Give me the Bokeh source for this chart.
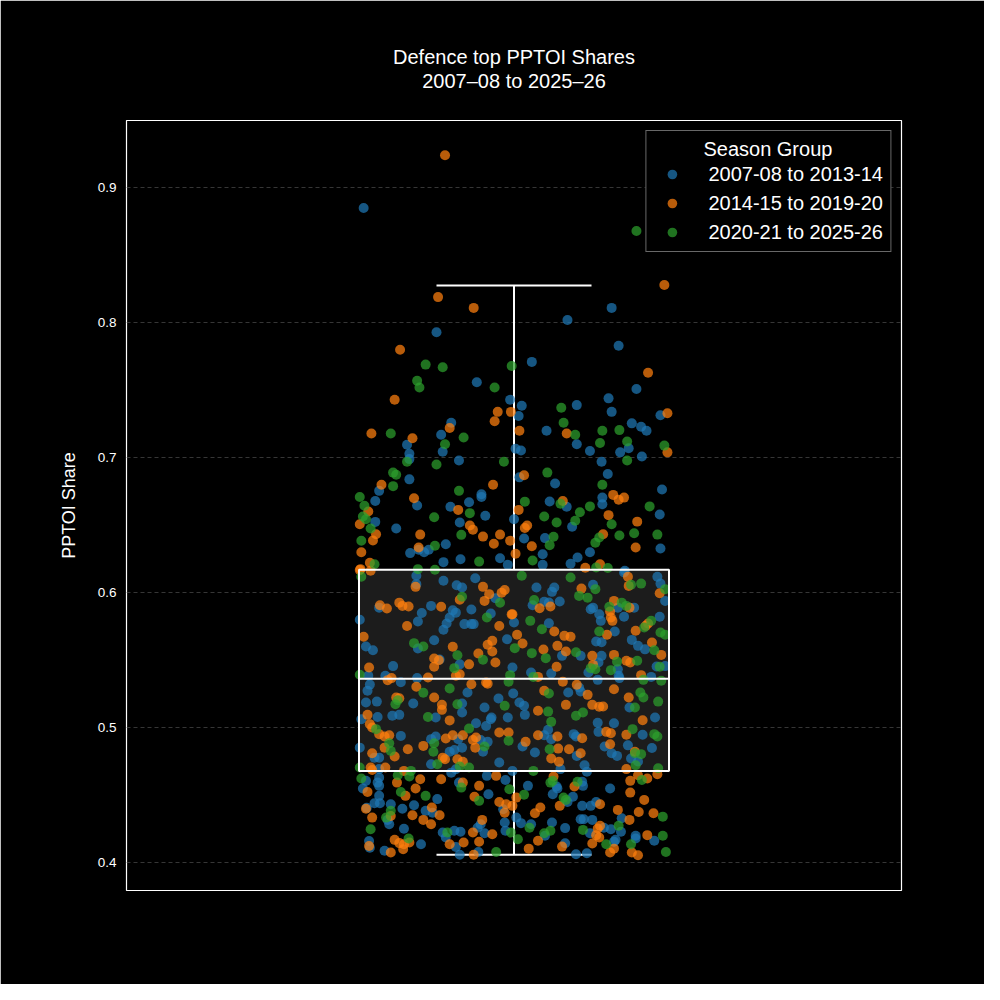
from bokeh.plotting import figure
from bokeh.models import Range1d, FixedTicker, Legend, LegendItem, Title
from bokeh.embed import file_html
from bokeh.resources import INLINE

# ---------------- data ----------------
groups = ["2007-08 to 2013-14", "2014-15 to 2019-20", "2020-21 to 2025-26"]
colors = ["#1f77b4", "#ff7f0e", "#2ca02c"]

share_0713 = [
    0.885, 0.811, 0.802, 0.793, 0.783, 0.771, 0.756, 0.751, 0.743, 0.744,
    0.7385, 0.739, 0.734, 0.731, 0.7315, 0.7255, 0.723, 0.720, 0.726, 0.717, 0.720,
    0.7096, 0.710, 0.705, 0.704, 0.707, 0.703, 0.699, 0.7045, 0.7067, 0.7054, 0.698, 0.697, 0.701,
    0.688, 0.6855, 0.684, 0.681, 0.6755, 0.6765, 0.668, 0.673, 0.671, 0.667, 0.6705, 0.6676, 0.6637, 0.6646, 0.6637, 0.6656,
    0.657, 0.658, 0.6525, 0.652, 0.6545, 0.6489, 0.6476, 0.6402, 0.6405, 0.636, 0.6328,
    0.6319, 0.630, 0.6319, 0.6294, 0.6286, 0.630, 0.6261, 0.6256, 0.6249, 0.6227, 0.6207, 0.6207, 0.6215, 0.6163,
    0.6126, 0.6064, 0.6089, 0.6108, 0.6056, 0.6039, 0.596, 0.589, 0.5903, 0.587, 0.5853, 0.5876, 0.585, 0.5846, 0.580, 0.5787, 0.5817, 0.5772, 0.5768, 0.5768, 0.5768, 0.5726, 0.578,
    0.5649, 0.5656, 0.5587, 0.5602, 0.5575, 0.5506, 0.547, 0.5457, 0.5446, 0.5385, 0.5385, 0.5368, 0.5338, 0.532, 0.5274, 0.5262, 0.5217, 0.5187, 0.5194, 0.518, 0.518, 0.515, 0.5254, 0.5113, 0.5076, 0.508, 0.5063, 0.5089, 0.5096, 0.5076, 0.5076,
    0.5034, 0.5014, 0.5064, 0.494, 0.4779, 0.4779, 0.4853, 0.4916, 0.4935, 0.4916, 0.4852, 0.4835, 0.4822, 0.491, 0.4822, 0.4896, 0.473, 0.4743, 0.4694, 0.4668, 0.4693, 0.4681,
    0.4607, 0.4631, 0.4594, 0.455, 0.457, 0.4496, 0.4594, 0.4644, 0.4614, 0.4508, 0.4472, 0.4441, 0.4441, 0.4407, 0.4434, 0.4401, 0.4427, 0.4385, 0.4371, 0.4318, 0.4286, 0.4253, 0.4161, 0.4111, 0.4138, 0.4089, 0.4188, 0.4224, 0.4237, 0.4230, 0.4117, 0.426, 0.4286, 0.4219, 0.408, 0.406, 0.4298, 0.4237, 0.4397,
    0.615, 0.6119, 0.6068, 0.594, 0.6039, 0.6007, 0.6039, 0.6059, 0.5908, 0.5933, 0.5928, 0.5935, 0.589, 0.5878, 0.589, 0.589, 0.5841, 0.5792, 0.5822, 0.5822,
    0.5775, 0.5713, 0.5639, 0.5634, 0.5651, 0.5607, 0.5581, 0.5533, 0.5533, 0.5533, 0.5484, 0.5409, 0.5434, 0.5385, 0.5454, 0.5457, 0.5409, 0.5402, 0.5355, 0.5368, 0.5377, 0.5262, 0.5298, 0.5269, 0.5187, 0.5163, 0.515, 0.5076, 0.5096,
    0.4948, 0.485, 0.497, 0.4861, 0.4812, 0.4792, 0.487, 0.4772, 0.475, 0.4953, 0.4935, 0.4945, 0.4916, 0.4985, 0.5038, 0.5034, 0.4861, 0.4817, 0.4792, 0.4723, 0.4674, 0.4694,
    0.4565, 0.455, 0.46, 0.457, 0.457, 0.4508, 0.449, 0.4451, 0.4422, 0.4422, 0.4451, 0.455, 0.433, 0.4323, 0.4323, 0.4318, 0.4298, 0.4257, 0.4294, 0.4286, 0.4335, 0.42, 0.4145, 0.4064, 0.4071, 0.4219, 0.426, 0.4248, 0.4156, 0.417, 0.423, 0.42, 0.418, 0.4163,
]
jitter_0713 = [
    -0.194, 0.126, 0.069, -0.100, 0.135, 0.023, -0.048, 0.158, -0.005, 0.122,
    0.010, 0.081, 0.126, 0.006, 0.189, 0.152, 0.164, 0.171, -0.081, -0.094, 0.042,
    -0.138, 0.081, 0.098, 0.137, 0.148, -0.135, -0.135, -0.092, 0.002, 0.009, -0.071, 0.113, 0.165,
    0.121, 0.007, -0.135, 0.053, -0.174, 0.191, -0.179, -0.042, -0.042, -0.058, 0.114, 0.046, 0.068, -0.125, -0.082, 0.114,
    -0.037, 0.188, -0.179, -0.070, 0.000, 0.075, -0.152, 0.013, 0.040, -0.088, 0.189,
    -0.123, -0.116, -0.110, -0.134, 0.037, 0.098, 0.082, -0.018, -0.069, -0.091, -0.008, 0.037, 0.073, 0.143,
    -0.126, -0.126, -0.091, -0.050, -0.074, -0.067, -0.024, -0.174, -0.107, -0.079, -0.075, -0.055, -0.119, -0.030, -0.199, -0.124, -0.083, -0.087, -0.064, -0.055, -0.052, -0.091, 0.000,
    -0.103, -0.009, -0.124, -0.191, -0.182, -0.096, -0.070, -0.156, -0.002, -0.188, -0.166, -0.125, -0.146, -0.186, -0.189, -0.060, -0.020, -0.191, -0.177, -0.130, -0.067, -0.038, -0.001, -0.067, -0.101, -0.176, -0.197, -0.157, -0.148, -0.029, -0.008,
    -0.049, -0.036, -0.030, -0.146, -0.180, -0.174, -0.199, -0.107, -0.101, -0.072, -0.067, -0.077, -0.083, -0.043, -0.040, -0.034, -0.107, -0.019, -0.174, -0.081, -0.075, -0.002,
    -0.191, -0.174, -0.176, -0.195, -0.174, -0.174, -0.071, -0.035, -0.011, -0.033, -0.099, -0.180, -0.173, -0.190, -0.159, -0.144, -0.129, -0.114, -0.105, -0.163, -0.161, -0.142, -0.187, -0.186, -0.120, -0.167, -0.088, -0.092, -0.077, -0.069, -0.075, -0.047, -0.043, -0.038, -0.046, -0.070, -0.012, -0.011, -0.014,
    0.142, 0.185, 0.189, 0.195, 0.029, 0.049, 0.052, 0.102, 0.024, 0.039, 0.045, 0.059, 0.155, 0.099, 0.102, 0.134, 0.110, 0.112, 0.142, 0.188,
    0.045, 0.130, 0.106, 0.113, 0.152, 0.160, 0.169, 0.062, 0.086, 0.113, 0.109, 0.096, 0.134, 0.135, 0.184, 0.195, 0.022, 0.048, 0.108, 0.136, 0.177, 0.070, 0.084, 0.086, 0.007, 0.013, 0.149, 0.182, 0.014,
    0.166, 0.178, 0.109, 0.117, 0.126, 0.133, 0.147, 0.151, 0.160, 0.077, 0.080, 0.039, 0.048, 0.044, 0.108, 0.129, 0.011, 0.027, 0.081, 0.091, 0.094, 0.060,
    0.055, 0.056, 0.088, 0.089, 0.018, 0.050, 0.076, 0.069, 0.088, 0.099, 0.106, 0.124, 0.139, 0.086, 0.090, 0.101, 0.049, 0.066, 0.009, 0.022, 0.003, 0.040, 0.066, 0.080, 0.094, 0.098, 0.116, 0.125, 0.129, 0.131, 0.138, 0.157, 0.157, 0.181,
]

share_1420 = [
    0.924, 0.828, 0.819, 0.811, 0.780, 0.763, 0.743,
    0.734, 0.734, 0.733, 0.727, 0.722, 0.718, 0.7145, 0.720, 0.718, 0.704,
    0.687, 0.680, 0.680, 0.670, 0.6725, 0.6705, 0.669, 0.668, 0.6602, 0.6614, 0.6614, 0.6575, 0.6508, 0.6498, 0.6467, 0.6527, 0.6498, 0.648,
    0.6434, 0.6431, 0.6431, 0.6434, 0.6387, 0.6416, 0.6363, 0.6385, 0.6345, 0.6335, 0.630, 0.6335, 0.6289, 0.6222, 0.6185, 0.6212, 0.6175,
    0.6168, 0.6163, 0.6044, 0.5948, 0.6044, 0.599, 0.594, 0.600, 0.602, 0.5908, 0.5883, 0.5927, 0.5903, 0.5898, 0.5896, 0.584, 0.5754, 0.5754, 0.5674, 0.5644, 0.560, 0.5615, 0.5565,
    0.555, 0.5513, 0.550, 0.5484, 0.547, 0.5452, 0.5446, 0.5385, 0.5397, 0.5353, 0.5368, 0.5372, 0.5335, 0.5327, 0.5323, 0.5304, 0.5224, 0.5219, 0.5224, 0.517, 0.5133, 0.5096, 0.5055,
    0.5027, 0.5002, 0.4953, 0.4935, 0.4945, 0.4853, 0.4787, 0.4812, 0.4841, 0.4866, 0.4921, 0.4945, 0.4945, 0.491, 0.4928, 0.4853, 0.4965, 0.4965, 0.4779, 0.4767, 0.4767, 0.4748, 0.4706, 0.4688, 0.4706, 0.4681,
    0.4525, 0.4594, 0.4619, 0.455, 0.4496, 0.4619, 0.4594, 0.457, 0.4644, 0.4489, 0.4451, 0.4434, 0.4371, 0.4401, 0.4347, 0.4335, 0.4353, 0.4410, 0.4353, 0.4318, 0.4286, 0.4124, 0.417, 0.4146, 0.4138, 0.415, 0.410, 0.4076, 0.4138, 0.415, 0.4224, 0.4318, 0.4156, 0.406, 0.4212, 0.4422,
    0.6119, 0.6051, 0.5996, 0.6031, 0.5886, 0.5898, 0.594, 0.589, 0.5861, 0.5817, 0.5792, 0.5841, 0.5713, 0.5689, 0.5681, 0.5674, 0.5689, 0.5719, 0.5755, 0.5772, 0.5624, 0.5632, 0.5607,
    0.558, 0.5565, 0.5533, 0.554, 0.554, 0.5496, 0.5484, 0.5466, 0.5452, 0.5377, 0.5342, 0.539, 0.5274, 0.5319, 0.5244, 0.5286, 0.5224, 0.5126, 0.517, 0.517, 0.5156, 0.5158, 0.5056,
    0.4948, 0.497, 0.496, 0.4878, 0.4822, 0.4694, 0.4935, 0.4923, 0.4945, 0.4896, 0.4846, 0.4841, 0.4812, 0.4772, 0.4748, 0.4639,
    0.4565, 0.4483, 0.441, 0.4367, 0.4422, 0.4434, 0.4607, 0.4649, 0.4624, 0.4656, 0.452, 0.4466, 0.4392, 0.4377, 0.4367, 0.4318, 0.4163, 0.4105, 0.412, 0.4254, 0.4274, 0.4205, 0.4188, 0.4143, 0.4076, 0.4105, 0.4076, 0.4056, 0.4205,
]
jitter_1420 = [
    -0.089, 0.194, -0.098, -0.052, -0.147, 0.173, -0.154,
    -0.021, -0.004, 0.198, -0.025, -0.083, -0.184, -0.131, 0.007, 0.068, 0.198,
    0.013, -0.171, -0.027, -0.129, 0.128, 0.142, 0.135, 0.063, -0.188, -0.072, 0.006, 0.122, -0.199, -0.057, -0.053, 0.159, 0.017, 0.014,
    -0.178, -0.121, -0.018, 0.115, -0.182, -0.040, -0.026, -0.005, 0.023, 0.157, -0.197, -0.123, 0.002, -0.186, 0.092, 0.111, -0.198,
    -0.199, -0.185, -0.127, -0.070, -0.040, -0.032, -0.038, -0.016, -0.012, -0.173, -0.164, -0.148, -0.144, -0.136, -0.094, -0.003, -0.138, -0.019, -0.194, -0.028, -0.079, -0.034, -0.028,
    -0.046, -0.103, -0.097, -0.024, -0.058, -0.103, -0.187, -0.075, -0.070, -0.163, -0.158, -0.111, -0.036, -0.034, -0.055, -0.126, -0.152, -0.148, -0.103, -0.093, -0.093, -0.189, -0.083,
    -0.186, -0.183, -0.174, -0.167, -0.161, -0.167, -0.154, -0.183, -0.137, -0.117, -0.088, -0.079, -0.066, -0.053, -0.049, -0.050, -0.019, -0.007, -0.092, -0.089, -0.073, -0.066, -0.185, -0.183, -0.166, -0.142,
    -0.189, -0.151, -0.121, -0.127, -0.140, -0.094, -0.066, -0.045, -0.023, -0.051, -0.019, -0.010, -0.012, -0.191, -0.159, -0.183, -0.131, -0.106, -0.096, -0.117, -0.107, -0.187, -0.154, -0.148, -0.142, -0.135, -0.143, -0.159, -0.083, -0.065, -0.053, -0.041, -0.045, -0.052, -0.028, -0.002,
    0.147, 0.148, 0.188, 0.087, 0.033, 0.047, 0.129, 0.149, 0.124, 0.125, 0.127, -0.002, 0.052, 0.004, 0.065, 0.073, 0.120, 0.157, 0.170, 0.173, 0.011, 0.178, 0.056,
    0.038, 0.067, 0.101, 0.129, 0.190, 0.145, 0.150, 0.102, 0.055, 0.031, 0.063, 0.164, 0.039, 0.081, 0.095, 0.129, 0.148, 0.031, 0.067, 0.101, 0.110, 0.115, 0.166,
    0.145, 0.119, 0.125, 0.124, 0.156, 0.145, 0.056, 0.088, 0.031, 0.015, 0.057, 0.071, 0.086, 0.048, 0.058, 0.051,
    0.078, 0.003, 0.034, 0.027, 0.059, 0.111, 0.150, 0.160, 0.172, 0.185, 0.150, 0.168, 0.134, 0.161, 0.180, 0.149, 0.031, 0.019, 0.062, 0.108, 0.111, 0.106, 0.110, 0.101, 0.124, 0.129, 0.152, 0.160, 0.172,
]

share_2026 = [
    0.868, 0.769, 0.767, 0.768, 0.757, 0.752, 0.752,
    0.737, 0.726, 0.718, 0.715, 0.717, 0.720, 0.7205, 0.710, 0.711, 0.712, 0.709, 0.697, 0.697, 0.695, 0.698,
    0.689, 0.6874, 0.689, 0.679, 0.680, 0.6755, 0.671, 0.6675, 0.666, 0.6644, 0.664, 0.664, 0.659, 0.6597, 0.6565, 0.656, 0.6565, 0.6545, 0.6476, 0.652, 0.6533, 0.6508,
    0.6429, 0.6424, 0.6441, 0.6431, 0.6385, 0.6415, 0.641, 0.637, 0.6353, 0.6348, 0.6231, 0.6239, 0.6212, 0.6183, 0.6187, 0.6175, 0.617,
    0.6119, 0.597, 0.5926, 0.5817, 0.5627, 0.5602, 0.559, 0.5538, 0.5504, 0.5442, 0.5393, 0.539, 0.5342, 0.5291, 0.5259, 0.5174, 0.5204, 0.5174, 0.5163, 0.508,
    0.499, 0.4995, 0.4886, 0.4829, 0.4886, 0.4822, 0.4861, 0.4904, 0.473, 0.4713, 0.4706, 0.4706, 0.4681,
    0.4624, 0.4649, 0.4639, 0.4525, 0.4496, 0.4557, 0.4459, 0.4545, 0.4385, 0.4335, 0.4248, 0.418, 0.4224, 0.408, 0.4224,
    0.6126, 0.6113, 0.6059, 0.6068, 0.6027, 0.6027, 0.5977, 0.5964, 0.5946, 0.5896, 0.5927, 0.5903, 0.5792, 0.573, 0.5713, 0.5792, 0.5743, 0.5706, 0.5689, 0.5575,
    0.5553, 0.556, 0.5516, 0.5496, 0.549, 0.5434, 0.5442, 0.5427, 0.5452, 0.5377, 0.5355, 0.5348, 0.5254, 0.5261, 0.5224, 0.5194, 0.512, 0.5089, 0.5113, 0.515,
    0.499, 0.4953, 0.4935, 0.4812, 0.4805, 0.4723, 0.4701, 0.5044, 0.4841, 0.4681, 0.4607, 0.4594, 0.46, 0.4504,
    0.4483, 0.4466, 0.4614, 0.4342, 0.426, 0.4219, 0.4237, 0.4175, 0.4244, 0.4138, 0.4274, 0.4138, 0.42, 0.408,
]
jitter_2026 = [
    0.158, -0.114, -0.092, -0.003, -0.125, -0.122, -0.025,
    0.061, 0.064, -0.159, -0.065, 0.079, 0.114, 0.136, -0.089, 0.111, 0.146, 0.194, -0.138, -0.013, -0.100, 0.146,
    -0.156, -0.152, 0.043, -0.156, 0.114, -0.071, -0.199, 0.014, 0.060, -0.193, 0.098, 0.175, -0.057, 0.085, -0.195, -0.103, 0.039, -0.191, -0.185, 0.055, 0.079, 0.126,
    -0.068, 0.136, 0.155, 0.185, -0.197, 0.051, 0.110, 0.105, 0.046, -0.102, -0.045, 0.024, -0.180, 0.121, 0.106, -0.124, -0.102,
    -0.197, -0.067, -0.018, -0.035, -0.129, -0.117, 0.001, -0.073, -0.040, -0.077, -0.199, -0.005, -0.007, -0.083, -0.117, -0.153, -0.150, -0.073, -0.012, -0.111,
    -0.178, -0.058, -0.161, -0.159, -0.103, -0.104, -0.038, -0.007, -0.099, -0.070, -0.058, -0.199, -0.133,
    -0.197, -0.150, -0.135, -0.146, -0.114, -0.068, -0.045, -0.006, -0.159, -0.165, -0.185, -0.136, -0.086, -0.023, -0.004,
    0.010, 0.073, 0.151, 0.164, 0.195, 0.105, 0.084, 0.095, 0.026, 0.123, 0.139, 0.145, 0.021, 0.036, 0.110, 0.177, 0.168, 0.189, 0.195, 0.181,
    0.023, 0.080, 0.041, 0.159, 0.133, 0.105, 0.099, 0.125, 0.188, 0.025, 0.167, 0.190, 0.045, 0.163, 0.167, 0.186, 0.044, 0.080, 0.089, 0.156,
    0.153, 0.181, 0.185, 0.156, 0.164, 0.157, 0.186, 0.048, 0.046, 0.025, 0.050, 0.047, 0.082, 0.013,
    0.064, 0.067, 0.165, 0.192, 0.020, 0.039, 0.047, 0.005, 0.089, 0.119, 0.135, 0.151, 0.192, 0.196,
]

# box-plot summary of all shares
box_q1 = 0.468
box_median = 0.5363
box_q3 = 0.617
whisker_low = 0.406
whisker_high = 0.8276

y_ticks = [0.4, 0.5, 0.6, 0.7, 0.8, 0.9]

title_main = "Defence top PPTOI Shares"
title_sub = "2007\u201308 to 2025\u201326"
legend_title = "Season Group"

shares = [share_0713, share_1420, share_2026]
jitters = [jitter_0713, jitter_1420, jitter_2026]
for s, j in zip(shares, jitters):
    assert len(s) == len(j), (len(s), len(j))

# ---------------- figure ----------------
FONT = "Liberation Sans"
p = figure(
    frame_width=775, frame_height=770,
    x_range=Range1d(-0.5, 0.5), y_range=Range1d(0.3795, 0.9498),
    output_backend="svg", toolbar_location=None,
    background_fill_color="black", border_fill_color="black",
    min_border_left=126, min_border_right=83, min_border_top=120, min_border_bottom=94,
)
p.outline_line_color = "white"
p.outline_line_width = 1.2

# two-line title: figure title is outermost; added titles stack outward from the frame
p.title.text = title_main
p.title.align = "center"
p.title.text_color = "white"
p.title.text_font = FONT
p.title.text_font_size = "20px"
p.title.text_font_style = "normal"
p.title.standoff = 0
# blank spacer next to the frame
p.add_layout(Title(text=" ", align="center", text_color="black", text_font=FONT,
                   text_font_size="10px", standoff=16), "above")
p.add_layout(Title(text=title_sub, align="center", text_color="white", text_font=FONT,
                   text_font_size="20px", text_font_style="normal", standoff=0), "above")

p.xaxis.visible = False
p.xgrid.visible = False
p.ygrid.grid_line_color = "#363636"
p.ygrid.grid_line_dash = "4 3"
p.ygrid.grid_line_width = 1

ax = p.yaxis[0]
ax.ticker = FixedTicker(ticks=y_ticks)
ax.axis_line_color = None
ax.major_tick_line_color = None
ax.minor_tick_line_color = None
ax.major_tick_out = 0
ax.major_tick_in = 0
ax.major_label_standoff = 10
ax.major_label_text_color = "white"
ax.major_label_text_font = FONT
ax.major_label_text_font_size = "13.5px"
ax.axis_label = "PPTOI Share"
ax.axis_label_text_color = "white"
ax.axis_label_text_font = FONT
ax.axis_label_text_font_style = "normal"
ax.axis_label_text_font_size = "18px"
ax.axis_label_standoff = 16

# box fill
p.quad(left=[-0.2], right=[0.2], bottom=[box_q1], top=[box_q3],
       fill_color="#1c1c1c", line_color=None)
# whiskers and caps
p.segment(x0=[0, 0], y0=[box_q3, box_q1], x1=[0, 0], y1=[whisker_high, whisker_low],
          line_color="white", line_width=2)
p.segment(x0=[-0.1, -0.1], y0=[whisker_high, whisker_low], x1=[0.1, 0.1],
          y1=[whisker_high, whisker_low], line_color="white", line_width=2)

items = []
for g, c, s, j in zip(groups, colors, shares, jitters):
    r = p.scatter(x=j, y=s, size=10, fill_color=c, fill_alpha=0.72, line_color=None)
    items.append(LegendItem(label=g, renderers=[r]))

# box outline and median on top
p.quad(left=[-0.2], right=[0.2], bottom=[box_q1], top=[box_q3],
       fill_color=None, line_color="white", line_width=2)
p.segment(x0=[-0.2], y0=[box_median], x1=[0.2], y1=[box_median],
          line_color="white", line_width=2)

legend = Legend(
    items=items, location="top_right",
    title="\u00a0" * 9 + legend_title,   # non-breaking spaces centre the title over the entries
    background_fill_color="black", background_fill_alpha=1.0,
    border_line_color="#d0d0d0", border_line_width=1,
    label_text_color="white", label_text_font=FONT, label_text_font_size="20px",
    title_text_color="white", title_text_font=FONT, title_text_font_size="20px",
    title_text_font_style="normal",
    padding=7, spacing=5, label_height=24, glyph_height=24, glyph_width=37,
    label_standoff=18, margin=10, title_standoff=1,
)
p.add_layout(legend)

open("out.html", "w").write(file_html(p, INLINE))
